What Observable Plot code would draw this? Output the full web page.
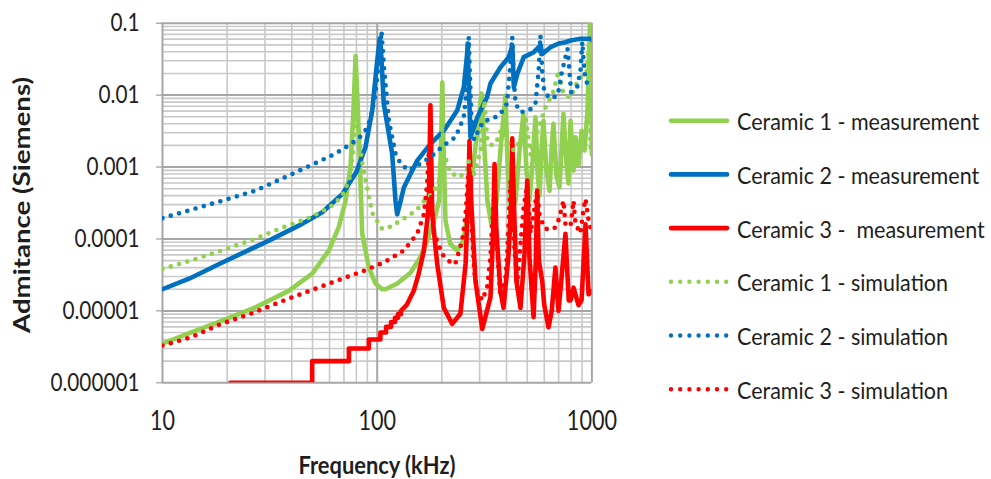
<!DOCTYPE html>
<html>
<head>
<meta charset="utf-8">
<script src="https://cdn.jsdelivr.net/npm/d3@7"></script>
<script src="https://cdn.jsdelivr.net/npm/@observablehq/plot@0.6"></script>
<style>
  html, body { margin: 0; padding: 0; background: #fff; }
  #chart { position: relative; width: 991px; height: 479px; }
  svg text { font-family: Lato, "Open Sans", sans-serif; }
</style>
</head>
<body>
<div id="chart"></div>
<script>
// Admittance sweeps, [frequency kHz, admittance S]
const ceramic1Measurement = [
  [10, 3.5e-6], [13.3, 4.9e-6], [19, 7.3e-6], [27.1, 1.12e-5], [38.7, 1.9e-5], [49.8, 3.3e-5],
  [59.5, 6.9e-5], [66.2, 1.46e-4], [71.2, 3.4e-4], [75.1, 1.0e-3], [77.5, 6e-3], [79.3, 0.035],
  [81, 0.008], [83, 1.2e-3], [85.1, 1.2e-4], [91.4, 4.0e-5], [98.2, 2.4e-5], [105.4, 2.0e-5],
  [109.3, 2.0e-5], [124, 2.4e-5], [143, 3.4e-5], [159, 5.6e-5], [171, 9.5e-5], [184, 1.8e-4],
  [194, 3.4e-4], [198.5, 2e-3], [201, 0.015], [203.5, 2e-3], [208, 1.8e-4], [219, 8.5e-5],
  [236, 6.9e-5], [252, 9.5e-5], [263, 2.1e-4], [278, 8.9e-4], [293, 3.2e-3], [306, 0.0105],
  [316, 1.7e-3], [326, 3.4e-4], [341, 1.53e-4], [360, 3.4e-4], [375, 1.7e-3], [396, 9.9e-3],
  [404, 1.2e-3], [418, 2.1e-4], [441, 3.4e-4], [460, 1.7e-3], [480, 5.5e-3], [496, 8.9e-4],
  [512, 3.4e-4], [529, 1.2e-3], [546, 4.9e-3], [558, 8.9e-4], [570, 4e-4], [582, 1.7e-3],
  [595, 4.4e-3], [614, 8.9e-4], [635, 4.7e-4], [648, 1.7e-3], [662, 4.0e-3], [684, 7.6e-4],
  [706, 5.2e-4], [722, 1.7e-3], [737, 5.5e-3], [762, 1.05e-3], [778, 5.9e-4], [795, 4.4e-3],
  [821, 8.9e-4], [839, 2.6e-3], [866, 1.05e-3], [895, 3.2e-3], [924, 1.7e-3], [954, 6.1e-3],
  [980, 0.1], [990, 0.1], [1000, 1.5e-3]
];

const ceramic2Measurement = [
  [10, 2.0e-5], [13.3, 2.8e-5], [19, 4.7e-5], [31.3, 9.5e-5], [43.1, 1.53e-4], [55.5, 2.35e-4],
  [68.7, 4.2e-4], [80, 8.5e-4], [88.2, 1.9e-3], [94.8, 6.1e-3], [100, 0.03], [102.8, 0.061],
  [104, 0.045], [107.3, 7.6e-3], [117.4, 1.54e-3], [121.7, 3.4e-4], [123.9, 2.2e-4], [128, 3.2e-4],
  [133.1, 5.2e-4], [153.6, 1.23e-3], [177.1, 2.1e-3], [204.3, 3.2e-3], [235.8, 6.1e-3],
  [253.2, 0.0129], [262.4, 0.0375], [264, 0.052], [266, 0.02], [272, 2.6e-3], [292.5, 4.9e-3],
  [325, 9.4e-3], [337, 0.0145], [375, 0.0244], [410, 0.0337], [426, 0.049], [433, 0.0129],
  [450, 0.02], [481.5, 0.0337], [536, 0.0395], [576, 0.049], [587, 0.0375], [642, 0.0464],
  [701, 0.0522], [753, 0.0544], [795, 0.0574], [885, 0.0607], [985, 0.0607], [1000, 0.058]
];

const ceramic3Measurement = [
  [20.7, 1e-6], [49.8, 1e-6], [49.8, 2e-6], [73.8, 2e-6], [73.8, 3e-6], [91.4, 3e-6], [91.4, 4e-6],
  [103.5, 4e-6], [103.5, 5e-6], [110, 5e-6], [110, 6e-6], [116, 6e-6], [116, 7e-6], [121, 7e-6],
  [121, 8e-6], [125, 8e-6], [125, 9e-6], [129, 9e-6], [129, 1e-5], [137, 1.2e-5], [148, 1.9e-5],
  [156, 3.3e-5], [165, 6.9e-5], [171, 1.8e-4], [174, 3.4e-4], [177, 7.2e-3], [180.4, 2.2e-4],
  [190.3, 4.5e-5], [204.3, 1.1e-5], [223.5, 6.6e-6], [244, 9.1e-6], [258, 4.5e-5], [267, 6.5e-4],
  [269, 2.3e-3], [274, 3.4e-4], [287, 2.6e-5], [308.5, 5.6e-6], [337, 1.55e-5], [347, 1.3e-4],
  [352, 1.1e-3], [359, 1.3e-4], [375, 1.9e-5], [387.5, 1.1e-5], [408, 5.5e-5], [422, 3.4e-4],
  [425.5, 2.5e-3], [433, 3.4e-4], [445, 2.6e-5], [465, 1.1e-5], [485, 6e-5], [500, 6.5e-4],
  [512, 5.5e-5], [535, 8.2e-6], [548, 5e-5], [556, 4.7e-4], [566, 5e-5], [587, 2.6e-5],
  [600, 1.2e-5], [628, 5.9e-6], [650, 1e-5], [676, 4e-5], [699, 1e-5], [720, 2.6e-5],
  [753, 1.18e-4], [780, 1.4e-5], [795, 1.4e-5], [821, 2.1e-5], [866, 1.2e-5], [895, 1.4e-5],
  [934, 1.6e-4], [965, 1.7e-5], [1000, 1.9e-5]
];

const ceramic1Simulation = [
  [10, 3.84e-5], [13.5, 5.0e-5], [18, 6.6e-5], [25.7, 9.5e-5], [36.7, 1.46e-4], [48.9, 2.0e-4],
  [60.6, 2.8e-4], [68, 3.8e-4], [74, 6.5e-4], [77, 1.5e-3], [79.3, 8e-3], [81, 4e-3], [83, 2.1e-3],
  [85, 1.2e-3], [88, 7e-4], [94.8, 2.3e-4], [105.4, 1.38e-4], [117, 1.5e-4], [128, 1.8e-4],
  [140, 2.1e-4], [154, 2.6e-4], [171, 3.8e-4], [180, 4.2e-4], [197, 6.9e-4], [201, 4e-3],
  [205, 1.6e-3], [212, 1.1e-3], [219, 8.5e-4], [239, 7.2e-4], [262, 8.5e-4], [267, 1.2e-3],
  [281, 7.6e-4], [303, 1.7e-3], [316, 8.4e-3], [326, 2.3e-3], [344, 2e-3], [367, 2.5e-3],
  [388, 4.4e-3], [400, 2.3e-3], [433, 1.7e-3], [465, 2.3e-3], [490, 5.2e-3], [518, 1.45e-3],
  [546, 2.6e-3], [608, 6.7e-3], [665, 0.0116], [699, 0.022], [737, 0.0104], [795, 0.0092],
  [839, 0.0136], [885, 0.0176], [944, 0.0206], [975, 0.0574], [985, 1.9e-3], [1000, 1.7e-3]
];

const ceramic2Simulation = [
  [10, 1.95e-4], [19, 3.4e-4], [27.1, 4.7e-4], [38.7, 7.6e-4], [50.5, 1.1e-3], [64, 1.54e-3],
  [76.5, 2.15e-3], [83, 2.6e-3], [89.2, 3.4e-3], [93.1, 4.7e-3], [98, 0.01], [101.5, 0.028],
  [104.7, 0.077], [107.5, 0.025], [113.3, 4.4e-3], [121.7, 1.54e-3], [128.4, 1.12e-3],
  [140.4, 8.9e-4], [153.6, 1.05e-3], [177, 1.37e-3], [204, 2.0e-3], [231.5, 2.6e-3],
  [253, 4.9e-3], [262, 0.0129], [267, 0.064], [270, 0.02], [276, 3.3e-3], [283, 2.4e-3],
  [300, 3.5e-3], [314, 4.4e-3], [343, 4.6e-3], [375, 5.5e-3], [402, 7.6e-3], [415, 0.022],
  [425.5, 0.064], [433, 0.016], [441, 7.6e-3], [465, 5.8e-3], [510, 6.1e-3], [546, 7.6e-3],
  [565, 0.022], [576, 0.0675], [587, 0.022], [600, 0.011], [642, 8.9e-3], [693, 9.9e-3],
  [722, 0.0197], [753, 0.0337], [770, 0.044], [786, 0.022], [800, 0.011], [854, 0.0129],
  [885, 0.022], [902, 0.055], [925, 0.02], [950, 0.0144], [1000, 0.0145]
];

const ceramic3Simulation = [
  [10, 3.3e-6], [13.6, 4.3e-6], [18.5, 6.5e-6], [25.7, 9.1e-6], [36.7, 1.39e-5], [48.9, 1.92e-5],
  [65.1, 2.64e-5], [86.6, 3.6e-5], [107.3, 4.7e-5], [133, 6.9e-5], [153.6, 1.18e-4], [165, 2.2e-4],
  [171, 6e-4], [174, 1.7e-3], [177, 6e-4], [184, 1.2e-4], [201, 6.1e-5], [223, 4.5e-5],
  [231, 4.5e-5], [249, 9.5e-5], [258, 2.2e-4], [264, 6e-4], [268, 1.05e-3], [272, 3e-4],
  [283, 3.6e-5], [292.5, 1.9e-5], [308.5, 1.4e-5], [325, 2.1e-5], [337, 5.6e-5], [343, 1.6e-4],
  [352, 4.7e-4], [358, 1.2e-4], [375, 1.55e-5], [395, 2.6e-5], [404, 7e-5], [418, 6.5e-4],
  [428, 1.5e-4], [449, 2.4e-5], [465, 8.5e-5], [481, 2.8e-4], [500, 5.5e-4], [518, 1.2e-4],
  [535, 2.2e-4], [556, 4.7e-4], [570, 2.2e-4], [587, 1.7e-4], [608, 1.38e-4], [665, 1.38e-4],
  [690, 1.6e-4], [722, 2.6e-4], [737, 3.4e-4], [753, 1.6e-4], [795, 1.5e-4], [821, 3.4e-4],
  [839, 1.6e-4], [885, 1.2e-4], [914, 2.6e-4], [934, 3.6e-4], [965, 1.8e-4], [1000, 1.2e-4]
];

// Axis ticks and their printed labels
const xTicks = [10, 100, 1000];
const xTickLabels = ["10", "100", "1000"];
const yTicks = [1e-6, 1e-5, 1e-4, 1e-3, 1e-2, 1e-1];
const yTickLabels = ["0.000001", "0.00001", "0.0001", "0.001", "0.01", "0.1"];

// Legend entries
const legendLabels = [
  "Ceramic 1 - measurement",
  "Ceramic 2 - measurement",
  "Ceramic 3 -  measurement",
  "Ceramic 1 - simulation",
  "Ceramic 2 - simulation",
  "Ceramic 3 - simulation"
];
const seriesColors = ["#92D050", "#0070C0", "#FF0000"];

// Minor log gridlines (2..9 within each decade)
const xMinor = [10, 100].flatMap(d => d3.range(2, 10).map(k => k * d));
const yMinor = yTicks.slice(0, -1).flatMap(d => d3.range(2, 10).map(k => k * d));

const xLabelOf = new Map(xTicks.map((t, i) => [t, xTickLabels[i]]));
const yLabelOf = new Map(yTicks.map((t, i) => [t, yTickLabels[i]]));

const solid = {strokeWidth: 4.6, strokeLinejoin: "round", strokeLinecap: "round", clip: true};
const dotted = {strokeWidth: 4.7, strokeDasharray: "0 8.6", strokeLinecap: "round", clip: true};
const xy = {x: d => d[0], y: d => d[1]};

const svg = Plot.plot({
  width: 991,
  height: 479,
  marginLeft: 162,
  marginRight: 399.6,
  marginTop: 22.7,
  marginBottom: 96.7,
  style: {fontFamily: "Lato, 'Open Sans', sans-serif", fontSize: "25px", color: "#1e1e1e", background: "#fff"},
  x: {type: "log", domain: [10, 1000], label: null},
  y: {type: "log", domain: [1e-6, 0.1], label: null},
  marks: [
    Plot.ruleX(xMinor, {stroke: "#c9c9c9", strokeWidth: 1.6}),
    Plot.ruleY(yMinor, {stroke: "#c9c9c9", strokeWidth: 1.6}),
    Plot.ruleX(xTicks, {stroke: "#a6a6a6", strokeWidth: 2}),
    Plot.ruleY(yTicks, {stroke: "#a6a6a6", strokeWidth: 2}),
    Plot.line(ceramic1Measurement, {...xy, ...solid, stroke: seriesColors[0]}),
    Plot.line(ceramic2Measurement, {...xy, ...solid, stroke: seriesColors[1]}),
    Plot.line(ceramic3Measurement, {...xy, ...solid, stroke: seriesColors[2]}),
    Plot.line(ceramic1Simulation, {...xy, ...dotted, stroke: seriesColors[0]}),
    Plot.line(ceramic2Simulation, {...xy, ...dotted, stroke: seriesColors[1]}),
    Plot.line(ceramic3Simulation, {...xy, ...dotted, stroke: seriesColors[2]}),
    Plot.axisY(yTicks, {
      anchor: "left", tickSize: 6, tickPadding: 17, stroke: "#8a8a8a",
      tickFormat: d => yLabelOf.get(d), fontSize: 25, label: null
    }),
    Plot.axisX(xTicks, {
      anchor: "bottom", tickSize: 0, tickPadding: 29,
      tickFormat: d => xLabelOf.get(d), fontSize: 26, label: null
    })
  ]
});

document.getElementById("chart").append(svg);

// Narrow the tick labels to the condensed look of the axis font
d3.select(svg).selectAll('g[aria-label$="tick label"] text').each(function() {
  const w = this.getComputedTextLength();
  this.setAttribute("textLength", (w * 0.83).toFixed(1));
  this.setAttribute("lengthAdjust", "spacingAndGlyphs");
});

const root = d3.select(svg);

// Axis titles
root.append("text")
  .attr("x", 377).attr("y", 474)
  .attr("text-anchor", "middle")
  .attr("font-weight", "bold").attr("font-size", 24).attr("fill", "#1e1e1e")
  .attr("textLength", 157).attr("lengthAdjust", "spacingAndGlyphs")
  .text("Frequency (kHz)");

root.append("text")
  .attr("transform", "translate(30,205) rotate(-90)")
  .attr("text-anchor", "middle")
  .attr("font-weight", "bold").attr("font-size", 23).attr("fill", "#1e1e1e")
  .attr("textLength", 256).attr("lengthAdjust", "spacingAndGlyphs")
  .text("Admitance (Siemens)");

// Legend: swatch line plus label, one row per series
const legend = root.append("g").attr("text-anchor", "start");
legendLabels.forEach((label, i) => {
  const cy = 120.7 + i * 53.7;
  const color = seriesColors[i % 3];
  const line = legend.append("line")
    .attr("x1", 671).attr("x2", 727).attr("y1", cy).attr("y2", cy)
    .attr("stroke", color).attr("stroke-width", i < 3 ? 4.6 : 4.4)
    .attr("stroke-linecap", "round");
  if (i >= 3) line.attr("stroke-dasharray", "0 9.2");
  legend.append("text")
    .attr("transform", `translate(737,${cy + 9.5}) scale(1,1.1)`)
    .attr("text-anchor", "start")
    .attr("font-size", 21.5).attr("fill", "#1e1e1e")
    .style("white-space", "pre")
    .text(label);
});
</script>
</body>
</html>
